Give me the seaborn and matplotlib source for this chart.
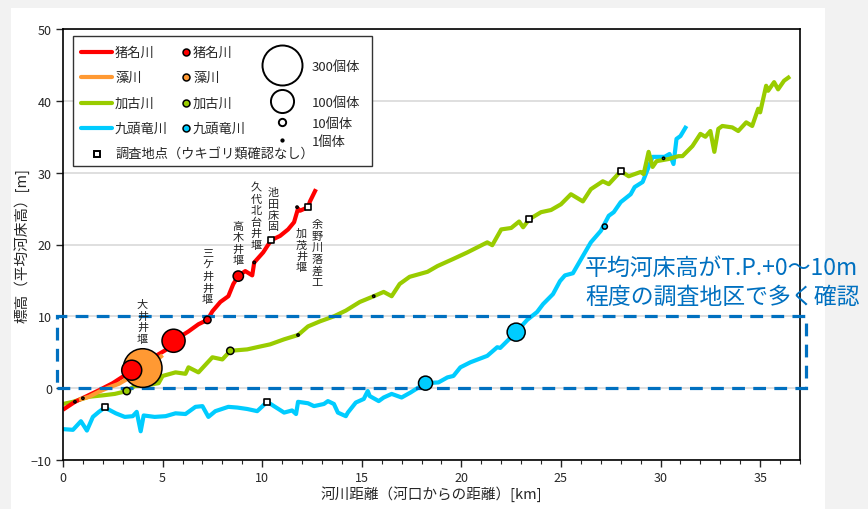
import numpy as np
import pandas as pd
import matplotlib
matplotlib.use("Agg")
import matplotlib.pyplot as plt
from matplotlib.lines import Line2D
from matplotlib.patches import Rectangle
from matplotlib.ticker import MultipleLocator
import seaborn as sns

sns.set_style("ticks")
plt.rcParams['font.family'] = ['Noto Sans CJK JP', 'DejaVu Sans']

# ---- data ----
# 猪名川
ina_km = [0.0, 0.6, 1.2, 1.8, 2.5, 3.0, 3.45, 4.0, 4.6, 5.15, 5.55, 6.3, 6.8, 7.25, 7.5, 7.9,
          8.3, 8.55, 8.8, 9.15, 9.5, 9.6, 10.05, 10.45, 10.9, 11.3, 11.6, 11.8, 11.9, 12.3, 12.4, 12.7]
ina_z = [-3.0, -1.9, -1.1, -0.3, 0.7, 1.6, 2.5, 3.5, 4.4, 5.3, 6.6, 7.9, 8.9, 9.5, 10.7, 12.0,
         12.8, 14.5, 15.6, 16.3, 15.7, 17.5, 18.9, 20.6, 21.2, 22.1, 23.1, 25.0, 24.7, 25.2, 26.0, 27.7]
# 藻川
mo_km = [0.8, 1.3, 1.8, 2.3, 2.8, 3.3, 3.7, 4.0, 4.4, 4.7, 5.0]
mo_z = [-1.6, -1.2, -0.5, 0.1, 0.6, 1.4, 2.0, 2.8, 3.4, 3.9, 4.6]
# 加古川
kako_km = [0.0, 0.5, 1.3, 2.0, 2.6, 3.2, 3.6, 4.2, 4.8, 5.0, 5.65, 6.15, 6.3, 6.8, 7.5, 8.0, 8.4,
           9.25, 9.9, 10.4, 11.1, 11.8, 12.3, 12.9, 13.6, 14.2, 14.9, 15.6, 16.1, 16.5, 16.9, 17.4,
           18.3, 18.8, 19.6, 20.3, 21.3, 21.55, 22.0, 22.5, 22.9, 23.1, 23.4, 24.0, 24.5, 25.0, 25.5,
           26.1, 26.5, 27.1, 27.4, 28.0, 28.4, 29.0, 29.15, 29.4, 29.6, 29.8, 30.4, 30.9, 31.1, 31.6,
           32.0, 32.25, 32.5, 32.7, 32.9, 33.1, 33.6, 33.9, 34.3, 34.6, 34.9, 35.0, 35.3, 35.4, 35.7,
           35.9, 36.2, 36.5]
kako_z = [-2.2, -1.9, -1.2, -1.0, -0.8, -0.4, 0.3, 0.4, 0.7, 1.7, 2.2, 2.0, 2.9, 2.2, 4.3, 4.0, 5.2,
          5.4, 5.8, 6.1, 6.8, 7.4, 8.6, 9.3, 10.0, 10.8, 12.0, 12.8, 13.4, 12.8, 14.5, 15.5,
          16.2, 17.0, 18.0, 18.9, 20.3, 19.9, 22.1, 22.3, 23.2, 22.4, 23.5, 24.5, 24.8, 25.6, 27.0,
          26.0, 27.7, 28.8, 28.4, 30.2, 29.5, 30.1, 29.8, 32.9, 30.8, 31.6, 31.9, 32.3, 32.3, 33.7,
          35.4, 35.0, 35.8, 32.9, 36.1, 36.5, 36.3, 35.8, 37.0, 36.5, 38.9, 38.4, 42.1, 41.4, 42.6,
          41.6, 42.8, 43.4]
# 九頭竜川
kuzu_km = [0.0, 0.5, 0.9, 1.2, 1.5, 1.8, 2.1, 2.65, 3.1, 3.5, 3.7, 3.9, 4.05, 4.6, 5.15, 5.65, 6.15,
           6.65, 7.0, 7.3, 7.65, 8.3, 8.75, 9.25, 9.75, 10.25, 11.1, 11.5, 11.7, 11.8, 12.3, 12.6,
           13.1, 13.3, 13.6, 13.8, 14.2, 14.3, 14.7, 15.1, 15.3, 15.4, 15.85, 16.1, 16.5, 17.0, 17.45,
           17.85, 18.2, 18.85, 19.3, 19.6, 19.95, 20.45, 21.3, 21.8, 21.95, 22.75, 23.3, 23.8, 24.1,
           24.6, 24.95, 25.2, 25.6, 26.1, 26.5, 27.0, 27.4, 27.65, 28.0, 28.5, 28.7, 29.1, 29.4, 29.6,
           30.2, 30.45, 30.65, 30.8, 31.0, 31.3]
kuzu_z = [-5.7, -5.8, -4.6, -5.9, -4.0, -3.3, -2.7, -3.5, -4.0, -3.9, -3.3, -6.0, -3.8, -4.0, -3.9,
          -3.5, -3.6, -2.6, -2.5, -4.0, -3.2, -2.6, -2.7, -2.9, -3.2, -1.9, -3.4, -3.1, -3.6, -1.9,
          -2.1, -2.5, -2.2, -1.8, -2.2, -3.4, -3.9, -3.4, -2.0, -1.5, -0.4, -1.1, -1.8, -1.3, -0.8,
          -1.3, -0.6, 0.1, 0.7, 0.8, 1.5, 1.7, 2.9, 3.6, 4.5, 5.7, 5.6, 7.8, 9.5, 10.6, 11.7, 13.1,
          14.9, 15.7, 16.0, 18.4, 20.3, 21.9, 24.0, 24.5, 25.9, 27.0, 28.0, 28.7, 30.8, 32.2, 32.2,
          32.6, 31.2, 34.7, 35.1, 36.5]

# ウキゴリ類 確認地点 (km, 標高, 個体数)
ina_pt_km = [0.6, 3.45, 5.55, 7.25, 8.8, 9.6, 11.75]
ina_pt_z = [-1.9, 2.5, 6.6, 9.5, 15.6, 17.5, 25.2]
ina_pt_n = [1, 75, 100, 10, 20, 1, 1]
mo_pt_km = [1.0, 4.0]
mo_pt_z = [-1.4, 2.8]
mo_pt_n = [1, 280]
kako_pt_km = [3.2, 8.4, 11.8, 15.6]
kako_pt_z = [-0.4, 5.2, 7.4, 12.8]
kako_pt_n = [10, 10, 1, 1]
kuzu_pt_km = [18.2, 22.75, 27.2, 30.15]
kuzu_pt_z = [0.7, 7.8, 22.5, 32.0]
kuzu_pt_n = [37, 61, 5, 1]

# 調査地点（確認なし）
none_km = [10.45, 12.3, 23.4, 28.0, 2.1, 10.25]
none_z = [20.6, 25.2, 23.5, 30.2, -2.6, -1.9]

# 構造物ラベル
weir_names = ["大井井堰", "三ケ井井堰", "高木井堰", "久代北台井堰", "池田床固", "加茂井堰", "余野川落差工"]
weir_km = [3.99, 7.25, 8.8, 9.7, 10.56, 11.97, 12.77]
weir_z = [9.3, 15.6, 20.2, 24.0, 24.9, 19.2, 18.8]

band = (0, 10)
legend_counts = [300, 100, 10, 1]

RIVERS = ["猪名川", "藻川", "加古川", "九頭竜川"]
COLORS = {"猪名川": "#ff0000", "藻川": "#ff9933", "加古川": "#99cc00", "九頭竜川": "#00ccff"}
BLUE = "#0070c0"
S300 = (40 * 0.72) ** 2  # marker area for 300 individuals (~40px diameter)

lines = pd.concat([
    pd.DataFrame({"km": kuzu_km, "z": kuzu_z, "river": "九頭竜川"}),
    pd.DataFrame({"km": kako_km, "z": kako_z, "river": "加古川"}),
    pd.DataFrame({"km": ina_km, "z": ina_z, "river": "猪名川"}),
    pd.DataFrame({"km": mo_km, "z": mo_z, "river": "藻川"}),
])
pts = pd.concat([
    pd.DataFrame({"km": kako_pt_km, "z": kako_pt_z, "n": kako_pt_n, "river": "加古川"}),
    pd.DataFrame({"km": kuzu_pt_km, "z": kuzu_pt_z, "n": kuzu_pt_n, "river": "九頭竜川"}),
    pd.DataFrame({"km": mo_pt_km, "z": mo_pt_z, "n": mo_pt_n, "river": "藻川"}),
    pd.DataFrame({"km": ina_pt_km, "z": ina_pt_z, "n": ina_pt_n, "river": "猪名川"}),
])
nopts = pd.DataFrame({"km": none_km, "z": none_z})

# ---- figure ----
W, H = 868, 510
fig = plt.figure(figsize=(W / 100, H / 100), dpi=100, facecolor="#f2f2f2")
fig.add_artist(Rectangle((11 / W, 0), (825 - 11) / W, 1 - 9 / H, transform=fig.transFigure,
                         facecolor="white", edgecolor="none", zorder=-10))
ax = fig.add_axes([63 / W, 1 - 461 / H, (800 - 63) / W, (461 - 30) / H])

for river in ["九頭竜川", "加古川", "猪名川", "藻川"]:
    d = lines[lines.river == river]
    sns.lineplot(data=d, x="km", y="z", sort=False, estimator=None, color=COLORS[river],
                 lw=3.0, ax=ax, zorder=2, solid_capstyle="butt")

ax.add_patch(Rectangle((-0.3, band[0]), 37.6, band[1] - band[0], fill=False, ec=BLUE, lw=2.3,
                       ls=(0, (4, 2.6)), clip_on=False, zorder=3))

for river in ["加古川", "九頭竜川", "藻川", "猪名川"]:
    d = pts[pts.river == river]
    sns.scatterplot(data=d, x="km", y="z", size="n", sizes=(0, S300), size_norm=(0, 300),
                    color=COLORS[river], edgecolor="black", linewidth=1.1, legend=False,
                    ax=ax, zorder=4)
sns.scatterplot(data=nopts, x="km", y="z", marker="s", s=22, color="white", edgecolor="black",
                linewidth=1.2, legend=False, ax=ax, zorder=4)

for name, x, y in zip(weir_names, weir_km, weir_z):
    ax.text(x, y, "\n".join(name), ha="center", va="center", fontsize=8, linespacing=1.17,
            color="#222222", zorder=5)

ax.set_xlim(0, 37)
ax.set_ylim(-10, 50)
ax.xaxis.set_major_locator(MultipleLocator(5))
ax.xaxis.set_minor_locator(MultipleLocator(1))
ax.yaxis.set_major_locator(MultipleLocator(10))
ax.tick_params(which="major", direction="out", length=5, width=1, labelsize=9, pad=3)
ax.tick_params(which="minor", direction="out", length=3, width=0.8)
ax.yaxis.grid(True, color="#d9d9d9", lw=1.2)
ax.set_axisbelow(True)
for s in ax.spines.values():
    s.set_color("black")
    s.set_linewidth(1.2)
ax.set_xlabel("河川距離（河口からの距離）[km]", fontsize=10.5)
ax.set_ylabel("標高（平均河床高）[m]", fontsize=10.5)
ax.xaxis.set_label_coords(0.5, -0.058)
ax.yaxis.set_label_coords(-0.046, 0.5)

fig.text(585 / W, 1 - 268 / H, "平均河床高がT.P.+0～10m", color=BLUE, fontsize=16.5,
         ha="left", va="center")
fig.text(585 / W, 1 - 297 / H, "程度の調査地区で多く確認", color=BLUE, fontsize=16.5,
         ha="left", va="center")

# ---- legend (drawn in figure pixel coords) ----
def P(x, y):
    return x / W, 1 - y / H

fig.add_artist(Rectangle(P(73, 167), (372 - 73) / W, (167 - 37) / H, transform=fig.transFigure,
                         facecolor="white", edgecolor="#333333", lw=1.0, zorder=5))
rows = [53, 78, 104, 129]
for river, y in zip(RIVERS, rows):
    (x0, y0), (x1, _) = P(81, y), P(112, y)
    fig.add_artist(Line2D([x0, x1], [y0, y0], transform=fig.transFigure, color=COLORS[river],
                          lw=3, zorder=6))
    fig.text(*P(115, y), river, fontsize=9.5, va="center", ha="left", zorder=6)
    fig.add_artist(Line2D([P(186, y)[0]], [P(186, y)[1]], transform=fig.transFigure, marker="o",
                          ms=5, mfc=COLORS[river], mec="black", mew=1.1, ls="none", zorder=6))
    fig.text(*P(193, y), river, fontsize=9.5, va="center", ha="left", zorder=6)

size_rows = [66, 102, 123, 141]
for n, y in zip(legend_counts, size_rows):
    d = 40 * np.sqrt(n / 300) * 0.72
    fig.add_artist(Line2D([P(282, y)[0]], [P(282, y)[1]], transform=fig.transFigure, marker="o",
                          ms=d, mfc="white", mec="black", mew=1.4, ls="none", zorder=6))
    fig.text(*P(312, y + 1), f"{n}個体", fontsize=9.5, va="center", ha="left", zorder=6)

fig.add_artist(Line2D([P(97, 155)[0]], [P(97, 155)[1]], transform=fig.transFigure, marker="s",
                      ms=5, mfc="white", mec="black", mew=1.4, ls="none", zorder=6))
fig.text(*P(115, 155), "調査地点（ウキゴリ類確認なし）", fontsize=9.5, va="center", ha="left", zorder=6)

fig.savefig("out.png", dpi=100, facecolor=fig.get_facecolor())
